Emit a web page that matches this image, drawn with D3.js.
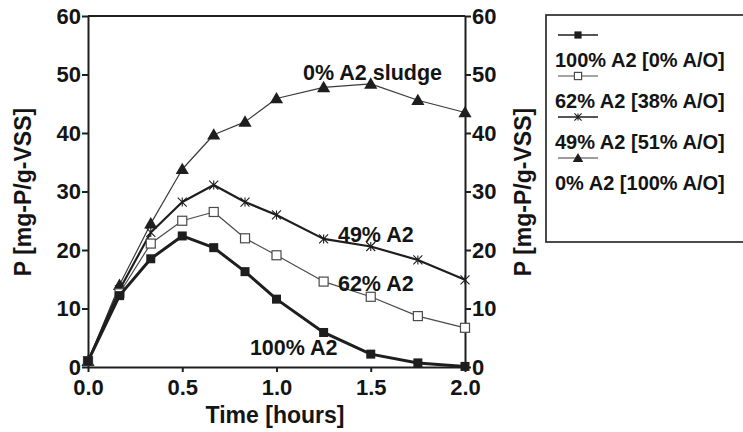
<!DOCTYPE html>
<html>
<head>
<meta charset="utf-8">
<script src="https://cdn.jsdelivr.net/npm/d3@7"></script>
<style>
    body { margin: 0; background: #fff; }
    svg text { font-family: "Liberation Sans", Arial, sans-serif; font-weight: bold; fill: #141414; }
</style>
</head>
<body>
<svg id="carte" width="743" height="432"></svg>
<script>
//////////////////////////////////////////
// Data  //
//////////////////////////////////////////
const temps = [0, 0.167, 0.333, 0.5, 0.667, 0.833, 1.0, 1.25, 1.5, 1.75, 2.0];
const p100 = [1.0, 12.2, 18.5, 22.4, 20.4, 16.3, 11.6, 5.9, 2.2, 0.7, 0.1];
const p62 = [1.0, 12.6, 21.1, 25.0, 26.5, 22.0, 19.1, 14.6, 12.0, 8.7, 6.7];
const p49 = [1.0, 13.2, 23.0, 28.2, 31.1, 28.2, 26.0, 21.9, 20.6, 18.3, 14.9];
const p0 = [1.0, 14.0, 24.5, 33.8, 39.7, 41.9, 45.9, 47.8, 48.4, 45.6, 43.5];

const xTicks = [0, 0.5, 1.0, 1.5, 2.0];
const yTicks = [0, 10, 20, 30, 40, 50, 60];
const legendLabels = ["100% A2 [0% A/O]", "62% A2 [38% A/O]", "49% A2 [51% A/O]", "0% A2 [100% A/O]"];
const curveLabels = ["100% A2", "62% A2", "49% A2", "0% A2 sludge"];
const xTitle = "Time [hours]";
const yTitle = "P [mg-P/g-VSS]";

//////////////////////////////////////////
// Scales and drawing area              //
//////////////////////////////////////////
const svg = d3.select("#carte");
const x = d3.scaleLinear().domain([0, 2]).range([88, 465]);
const y = d3.scaleLinear().domain([0, 60]).range([367, 16]);
const ink = "#1e1e1e";

// one object per series : values + how it is drawn
const series = [
    { vals: p0, marker: "triangle", width: 1.2, color: "#3a3a3a" },
    { vals: p49, marker: "star", width: 2.2, color: ink },
    { vals: p62, marker: "open", width: 1.2, color: "#4a4a4a" },
    { vals: p100, marker: "square", width: 3, color: ink }
];
// legend order = 100, 62, 49, 0
const legendOrder = [3, 2, 1, 0];

/**
 * draws one marker centred on (cx, cy), k = scale factor
 */
function marker(g, type, cx, cy, color, k = 1) {
    const h = 4.5 * k;
    if (type === "square") {
        g.append("rect").attr("x", cx - h).attr("y", cy - h).attr("width", 2 * h).attr("height", 2 * h).attr("fill", ink);
    } else if (type === "open") {
        g.append("rect").attr("x", cx - h).attr("y", cy - h).attr("width", 2 * h).attr("height", 2 * h)
            .attr("fill", "#fff").attr("stroke", color).attr("stroke-width", 1.2);
    } else if (type === "triangle") {
        g.append("path").attr("d", d3.symbol(d3.symbolTriangle, 75 * k * k)()).attr("transform", `translate(${cx},${cy + 1})`).attr("fill", ink);
    } else {
        // asterisk : an x with a vertical bar
        const s = 4.5 * k;
        const p = `M${cx - s},${cy - s}L${cx + s},${cy + s}M${cx - s},${cy + s}L${cx + s},${cy - s}M${cx},${cy - s}L${cx},${cy + s}`;
        g.append("path").attr("d", p).attr("stroke", color).attr("stroke-width", 1.1).attr("fill", "none");
    }
}

//////////////////////////////////////////
// Axes                                 //
//////////////////////////////////////////
function styleAxis(g, size) {
    g.select(".domain").attr("stroke", ink).attr("stroke-width", 2);
    g.selectAll(".tick line").attr("stroke", ink).attr("stroke-width", 2);
    g.selectAll(".tick text").attr("font-size", size).attr("fill", "#141414");
}

svg.append("g").attr("transform", "translate(88,0)")
    .call(d3.axisLeft(y).tickValues(yTicks).tickSize(6).tickSizeOuter(0).tickPadding(1).tickFormat(d3.format("d")))
    .call(g => styleAxis(g, 22));

svg.append("g").attr("transform", "translate(465,0)")
    .call(d3.axisRight(y).tickValues(yTicks).tickSize(6).tickSizeOuter(0).tickPadding(1).tickFormat(d3.format("d")))
    .call(g => styleAxis(g, 22));

svg.append("g").attr("transform", "translate(0,367)")
    .call(d3.axisBottom(x).tickValues(xTicks).tickSize(5).tickSizeOuter(0).tickPadding(7).tickFormat(d3.format(".1f")))
    .call(g => styleAxis(g, 22));

// top frame line
svg.append("line").attr("x1", x(0)).attr("x2", x(2)).attr("y1", y(60)).attr("y2", y(60))
    .attr("stroke", ink).attr("stroke-width", 2);

// axis titles
svg.append("text").attr("x", 275).attr("y", 423).attr("text-anchor", "middle").attr("font-size", 23).text(xTitle);
svg.append("text").attr("transform", "translate(31,192) rotate(-90)").attr("text-anchor", "middle").attr("font-size", 23).text(yTitle);
svg.append("text").attr("transform", "translate(531,192) rotate(-90)").attr("text-anchor", "middle").attr("font-size", 23).text(yTitle);

//////////////////////////////////////////
// Curves                               //
//////////////////////////////////////////
const line = d3.line().x((d, i) => x(temps[i])).y(d => y(d));

series.forEach(s => {
    const g = svg.append("g");
    g.append("path").datum(s.vals).attr("d", line).attr("fill", "none")
        .attr("stroke", s.color).attr("stroke-width", s.width).attr("stroke-linejoin", "round");
    s.vals.forEach((v, i) => marker(g, s.marker, x(temps[i]), y(v), s.color));
});

// labels next to the curves (anchored in data units)
const labelPos = [[0.859, 2.05], [1.326, 13.0], [1.326, 21.4], [1.141, 49.1]];
curveLabels.forEach((t, i) => {
    svg.append("text").attr("x", x(labelPos[i][0])).attr("y", y(labelPos[i][1])).attr("font-size", 21.5).text(t);
});

//////////////////////////////////////////
// Legend                               //
//////////////////////////////////////////
svg.append("rect").attr("x", 546).attr("y", 15).attr("width", 260).attr("height", 227)
    .attr("fill", "none").attr("stroke", ink).attr("stroke-width", 1.6);

legendOrder.forEach((k, i) => {
    const s = series[k];
    const g = svg.append("g");
    const ly = 35 + 41 * i;
    g.append("line").attr("x1", 558).attr("x2", 598).attr("y1", ly).attr("y2", ly)
        .attr("stroke", s.color).attr("stroke-width", Math.min(s.width, 1.6));
    marker(g, s.marker, 578, ly, s.color, 0.8);
    g.append("text").attr("x", 555).attr("y", 67 + 41 * i).attr("font-size", 20).text(legendLabels[i]);
});
</script>
</body>
</html>
